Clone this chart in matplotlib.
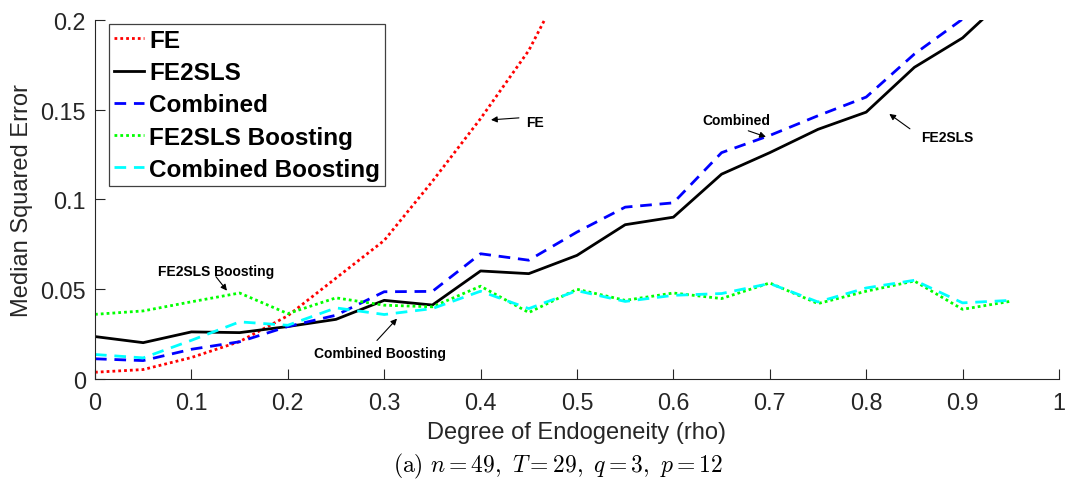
import matplotlib
matplotlib.use("Agg")
import matplotlib.pyplot as plt
from matplotlib.ticker import FormatStrFormatter

plt.rcParams["font.family"] = ["Liberation Sans", "DejaVu Sans"]
plt.rcParams["mathtext.fontset"] = "cm"

# degree of endogeneity (rho)
rho = [0, 0.05, 0.1, 0.15, 0.2, 0.25, 0.3, 0.35, 0.4, 0.45,
       0.5, 0.55, 0.6, 0.65, 0.7, 0.75, 0.8, 0.85, 0.9, 0.95]

# median squared error per estimator (values above 0.2 are clipped)
fe = [0.0035, 0.005, 0.0117, 0.0206, 0.035, 0.056, 0.077, 0.11, 0.145, 0.183,
      0.235, 0.29, 0.35, 0.42, 0.5, 0.58, 0.67, 0.76, 0.86, 0.97]
fe2sls = [0.0234, 0.020, 0.026, 0.0256, 0.029, 0.033, 0.0436, 0.041, 0.060, 0.0585,
          0.0687, 0.0858, 0.090, 0.114, 0.126, 0.139, 0.1486, 0.1736, 0.190, 0.215]
combined = [0.011, 0.010, 0.0163, 0.0205, 0.029, 0.0353, 0.0484, 0.0486, 0.0696, 0.066,
            0.0817, 0.0956, 0.098, 0.126, 0.1356, 0.1466, 0.157, 0.181, 0.2005, 0.225]
fe2sls_boost = [0.0358, 0.0377, 0.0428, 0.0477, 0.0362, 0.045, 0.0409, 0.040, 0.0515, 0.0368,
                0.0498, 0.0436, 0.0477, 0.0446, 0.0533, 0.0418, 0.0487, 0.0544, 0.0386, 0.0431]
combined_boost = [0.0134, 0.0115, 0.0213, 0.0316, 0.0297, 0.0394, 0.0357, 0.039, 0.0487, 0.039,
                  0.049, 0.043, 0.0464, 0.0474, 0.053, 0.0427, 0.0505, 0.0548, 0.0422, 0.0436]

x_ticks = [0, 0.1, 0.2, 0.3, 0.4, 0.5, 0.6, 0.7, 0.8, 0.9, 1]
y_ticks = [0, 0.05, 0.1, 0.15, 0.2]

# (label, text position, arrow tail, arrow head, alignment)
notes = [
    ("FE", (0.4471, 0.1432), (0.4398, 0.1454), (0.4108, 0.1443), "left"),
    ("Combined", (0.665, 0.1443), (0.6777, 0.1382), (0.696, 0.1348), "center"),
    ("FE2SLS", (0.8838, 0.1348), (0.8454, 0.1393), (0.824, 0.1476), "center"),
    ("FE2SLS Boosting", (0.126, 0.0602), (0.1255, 0.0568), (0.1369, 0.049), "center"),
    ("Combined Boosting", (0.2956, 0.0145), (0.2925, 0.0212), (0.3133, 0.0334), "center"),
]

fig = plt.figure(figsize=(10.66, 4.85), dpi=100)
ax = fig.add_axes([0.0891, 0.2175, 0.9043, 0.7392])

dot = (1.0, 1.1)
dash = (4.2, 2.8)
ax.plot(rho, fe, color=(1, 0, 0), lw=2, dashes=dot, dash_capstyle="butt", label="FE")
ax.plot(rho, fe2sls, color="black", lw=2, label="FE2SLS")
ax.plot(rho, combined, color=(0, 0, 1), lw=2, dashes=dash, label="Combined")
ax.plot(rho, fe2sls_boost, color=(0, 1, 0), lw=2, dashes=dot, dash_capstyle="butt",
        label="FE2SLS Boosting")
ax.plot(rho, combined_boost, color=(0, 1, 1), lw=2, dashes=dash, label="Combined Boosting")

for text, txy, tail, head, ha in notes:
    ax.annotate("", xy=head, xytext=tail,
                arrowprops=dict(arrowstyle="-|>", color="black", lw=0.8,
                                mutation_scale=9, shrinkA=0, shrinkB=0))
    ax.text(txy[0], txy[1], text, fontsize=10, fontweight="bold", ha=ha, va="center")

ax.set_xlim(0, 1)
ax.set_ylim(0, 0.2)
ax.set_xticks(x_ticks)
ax.set_yticks(y_ticks)
ax.xaxis.set_major_formatter(FormatStrFormatter("%g"))
ax.yaxis.set_major_formatter(FormatStrFormatter("%g"))
for side in ("top", "right"):
    ax.spines[side].set_visible(False)
for side in ("left", "bottom"):
    ax.spines[side].set_color("#262626")
    ax.spines[side].set_linewidth(0.8)
ax.tick_params(direction="in", length=7, width=0.8, color="#262626",
               labelcolor="#262626", labelsize=16.8)
ax.tick_params(axis="x", pad=9)
ax.tick_params(axis="y", pad=6.5)

ax.set_xlabel("Degree of Endogeneity (rho)", fontsize=17, color="#262626", labelpad=5)
ax.set_ylabel("Median Squared Error", fontsize=17, color="#262626", labelpad=5)

leg = ax.legend(loc="upper left", bbox_to_anchor=(0.0145, 0.989),
                prop=dict(weight="bold", size=17.5), handlelength=1.25, handletextpad=0.2,
                labelspacing=0.38, borderpad=0.2, borderaxespad=0, fancybox=False,
                framealpha=1)
leg.get_frame().set_edgecolor("#404040")
leg.get_frame().set_linewidth(0.9)

fig.text(0.5235, 0.039, r"$\mathrm{(a)}\ n = 49,\ T = 29,\ q = 3,\ p = 12$",
         fontsize=17, ha="center", va="center")

fig.savefig("out.png", dpi=100)
